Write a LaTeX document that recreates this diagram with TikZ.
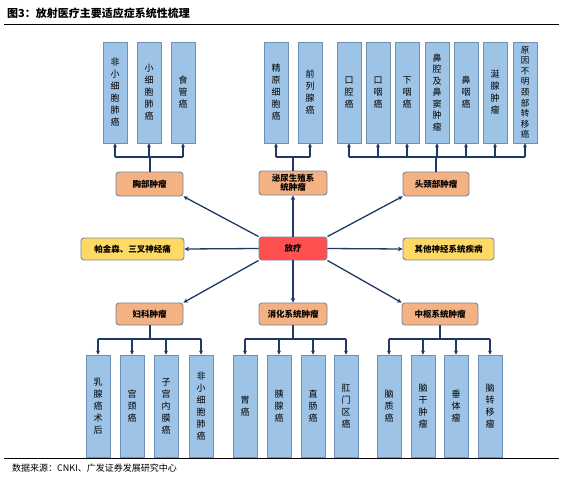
\documentclass[tikz,border=0pt]{standalone}
\usepackage{fontspec}
\setmainfont{Noto Sans CJK SC}
\usetikzlibrary{arrows.meta}
\definecolor{boxblue}{HTML}{9DC3E6}
\definecolor{boxedge}{HTML}{6F8FB5}
\definecolor{catorange}{HTML}{F4B183}
\definecolor{catyellow}{HTML}{FFD966}
\definecolor{radred}{HTML}{FF5050}
\definecolor{catedge}{HTML}{7A8599}
\definecolor{navy}{HTML}{203864}
\tikzset{
  vbox/.style={draw=boxedge, line width=0.8pt, fill=boxblue, minimum width=24pt, minimum height=101pt, inner sep=0pt, align=center, font=\fontsize{9}{12}\selectfont},
  catbox/.style={draw=catedge, line width=0.9pt, fill=catorange, rounded corners=3pt, minimum height=23pt, inner sep=1pt, align=center, font=\fontsize{8.5}{10}\selectfont\bfseries},
  conn/.style={draw=navy, line width=1.3pt, -{Stealth[length=4.5pt,width=4.5pt]}},
  stub/.style={draw=navy, line width=1.2pt, -{Stealth[length=4pt,width=4pt]}},
  barline/.style={draw=navy, line width=2pt},
}
\begin{document}
\begin{tikzpicture}[x=1pt,y=-1pt]
\useasboundingbox[fill=white] (0,0) rectangle (562,479);
% title and rules
\node[anchor=west, inner sep=0pt, font=\fontsize{11}{12}\selectfont\bfseries] (title) at (7,13) {图3：放射医疗主要适应症系统性梳理};
\coordinate (tl) at (4,24.5);
\coordinate (tr) at (559,24.5);
\draw[line width=1.2pt] (tl) -- (tr);
\coordinate (fl) at (4,458.5);
\coordinate (fr) at (559,458.5);
\draw[line width=1.2pt] (fl) -- (fr);
\node[anchor=west, inner sep=0pt, font=\fontsize{9}{10}\selectfont] (foot) at (12,468) {数据来源：CNKI、广发证券发展研究中心};

% central row
\node[catbox, fill=radred, minimum width=68pt] (rad) at (293,248.5) {放疗};
\node[catbox, fill=catyellow, minimum width=103pt, minimum height=22pt] (park) at (132.5,249) {帕金森、三叉神经痛};
\node[catbox, fill=catyellow, minimum width=91pt, minimum height=22pt] (oth) at (448.5,249) {其他神经系统疾病};

% category boxes
\node[catbox, minimum width=67pt, minimum height=24pt] (chest) at (149.5,184) {胸部肿瘤};
\node[catbox, minimum width=68pt, minimum height=24pt, font=\fontsize{8.5}{9.5}\selectfont\bfseries] (uro) at (293,183) {泌尿生殖系\\统肿瘤};
\node[catbox, minimum width=66pt, minimum height=24pt] (hn) at (436,184) {头颈部肿瘤};
\node[catbox, minimum width=67pt, minimum height=22pt] (gyn) at (149.5,314) {妇科肿瘤};
\node[catbox, minimum width=68pt, minimum height=22pt] (dig) at (293,314) {消化系统肿瘤};
\node[catbox, minimum width=76pt, minimum height=22pt] (cns) at (440,314) {中枢系统肿瘤};

% connectors from centre
\draw[conn] (rad.north west) -- (chest.south east);
\draw[conn] (rad.north) -- (uro.south);
\draw[conn] (rad.north east) -- (hn.south west);
\draw[conn] (rad.west) -- (park.east);
\draw[conn] (rad.east) -- (oth.west);
\draw[conn] (rad.south west) -- (gyn.north east);
\draw[conn] (rad.south) -- (dig.north);
\draw[conn] (rad.south east) -- (cns.north west);

% top boxes: chest
\node[vbox] (c1) at (115,92.5) {非\\小\\细\\胞\\肺\\癌};
\node[vbox] (c2) at (149,92.5) {小\\细\\胞\\肺\\癌};
\node[vbox] (c3) at (183,92.5) {食\\管\\癌};
\coordinate (cb) at (150,157);
\draw[barline] (chest.north) -- (chest.north |- cb);
\draw[barline] (c1.south |- cb) -- (c3.south |- cb);
\foreach \n in {c1,c2,c3} \draw[stub] (\n.south |- cb) -- (\n.south);

% urinary
\node[vbox] (u1) at (276,92.5) {精\\原\\细\\胞\\癌};
\node[vbox] (u2) at (310,92.5) {前\\列\\腺\\癌};
\coordinate (ub) at (293,157);
\draw[barline] (uro.north) -- (uro.north |- ub);
\draw[barline] (u1.south |- ub) -- (u2.south |- ub);
\foreach \n in {u1,u2} \draw[stub] (\n.south |- ub) -- (\n.south);

% head and neck
\node[vbox] (h1) at (349,92.5) {口\\腔\\癌};
\node[vbox] (h2) at (378,92.5) {口\\咽\\癌};
\node[vbox] (h3) at (407,92.5) {下\\咽\\癌};
\node[vbox, font=\fontsize{9}{11.5}\selectfont] (h4) at (437,92.5) {鼻\\腔\\及\\鼻\\窦\\肿\\瘤};
\node[vbox] (h5) at (466,92.5) {鼻\\咽\\癌};
\node[vbox] (h6) at (495,92.5) {涎\\腺\\肿\\瘤};
\node[vbox, font=\fontsize{8.5}{10.6}\selectfont] (h7) at (525,92.5) {原\\因\\不\\明\\颈\\部\\转\\移\\癌};
\coordinate (hb) at (436,157);
\draw[barline] (hn.north) -- (hn.north |- hb);
\draw[barline] (h1.south |- hb) -- (h7.south |- hb);
\foreach \n in {h1,h2,h3,h4,h5,h6,h7} \draw[stub] (\n.south |- hb) -- (\n.south);

% gynaecological
\node[vbox, minimum height=102pt] (g1) at (98,406) {乳\\腺\\癌\\术\\后};
\node[vbox, minimum height=102pt] (g2) at (132,406) {宫\\颈\\癌};
\node[vbox, minimum height=102pt] (g3) at (166,406) {子\\宫\\内\\膜\\癌};
\node[vbox, minimum height=102pt] (g4) at (201,406) {非\\小\\细\\胞\\肺\\癌};
\coordinate (gb) at (149.5,339);
\draw[barline] (gyn.south) -- (gyn.south |- gb);
\draw[barline] (g1.north |- gb) -- (g4.north |- gb);
\foreach \n in {g1,g2,g3,g4} \draw[stub] (\n.north |- gb) -- (\n.north);

% digestive
\node[vbox, minimum height=102pt] (d1) at (245,406) {胃\\癌};
\node[vbox, minimum height=102pt] (d2) at (279,406) {胰\\腺\\癌};
\node[vbox, minimum height=102pt] (d3) at (313,406) {直\\肠\\癌};
\node[vbox, minimum height=102pt] (d4) at (346,406) {肛\\门\\区\\癌};
\coordinate (db) at (293,339);
\draw[barline] (dig.south) -- (dig.south |- db);
\draw[barline] (d1.north |- db) -- (d4.north |- db);
\foreach \n in {d1,d2,d3,d4} \draw[stub] (\n.north |- db) -- (\n.north);

% central nervous system
\node[vbox, minimum height=102pt] (n1) at (389,406) {脑\\质\\癌};
\node[vbox, minimum height=102pt] (n2) at (423,406) {脑\\干\\肿\\瘤};
\node[vbox, minimum height=102pt] (n3) at (456,406) {垂\\体\\瘤};
\node[vbox, minimum height=102pt] (n4) at (490,406) {脑\\转\\移\\瘤};
\coordinate (nb) at (438,339);
\draw[barline] (cns.south) -- (cns.south |- nb);
\draw[barline] (n1.north |- nb) -- (n4.north |- nb);
\foreach \n in {n1,n2,n3,n4} \draw[stub] (\n.north |- nb) -- (\n.north);
\end{tikzpicture}
\end{document}
